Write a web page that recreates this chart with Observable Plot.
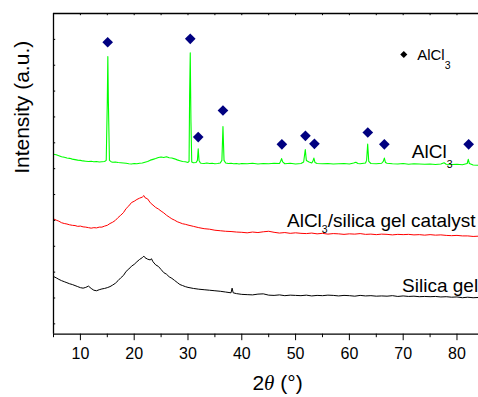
<!DOCTYPE html>
<html><head><meta charset="utf-8">
<script src="https://cdn.jsdelivr.net/npm/d3@7"></script>
<script src="https://cdn.jsdelivr.net/npm/@observablehq/plot@0.6"></script>
<style>
html,body{margin:0;padding:0;background:#fff;overflow:hidden;}
#chart svg{overflow:hidden;display:block;}
</style>
</head><body><div id="chart"></div>
<script>
// 2θ (degrees), intensity (a.u.)
const aluminumChloride = [[5,696],[5.5,694],[6,690],[6.5,686],[7,684],[7.5,681],[8,680],[8.5,677],[9,675],[9.5,673],[10,672],[10.5,670],[11,669],[11.5,668],[12,669],[12.5,667],[13,668],[13.5,666],[14,667],[14.5,668],[14.8,672],[15.0,900],[15.1,1074],[15.2,900],[15.4,672],[15.7,667],[16,665],[16.5,666],[17,664],[17.5,663],[18,662],[18.5,661],[19,659],[19.5,658],[20,660],[20.5,659],[21,661],[21.5,662],[22,665],[22.5,668],[23,673],[23.5,676],[24,679],[24.5,683],[25,685],[25.5,683],[26,686],[26.5,682],[27,681],[27.5,678],[28,674],[28.5,671],[29,668],[29.5,667],[30,664],[30.2,668],[30.3,920],[30.42,1088],[30.55,820],[30.7,666],[31,663],[31.5,664],[31.75,672],[31.9,717],[32.05,672],[32.3,662],[32.5,661],[33,660],[33.5,662],[34,660],[34.5,661],[35,659],[35.5,660],[36,662],[36.3,672],[36.5,803],[36.7,672],[37,662],[37.5,660],[38,661],[38.5,659],[39,660],[39.5,658],[40,660],[41,659],[42,661],[43,658],[44,660],[45,659],[46,661],[47,660],[47.2,668],[47.4,679],[47.6,666],[48,659],[49,661],[50,658],[51,660],[51.5,666],[51.8,714],[52,672],[52.5,666],[53,662],[53.2,668],[53.4,681],[53.6,664],[54,660],[55,659],[56,660],[57,658],[58,659],[59,660],[60,658],[60.8,662],[61.2,665],[61.6,660],[62,659],[63,662],[63.2,672],[63.4,735],[63.6,668],[64,660],[65,659],[66,661],[66.3,668],[66.5,681],[66.7,664],[67,661],[68,659],[69,658],[70,660],[71,657],[72,659],[73,658],[74,657],[75,658],[76,656],[77,658],[77.6,663],[78,657],[79,656],[80,657],[81,655],[81.9,660],[82.1,676],[82.3,660],[83,654],[84,653]];

const catalyst = [[5,446],[5.5,441],[6,437],[6.5,431],[7,428],[7.5,426],[8,423],[8.5,421],[9,420],[9.5,417],[10,418],[10.5,415],[11,414],[11.5,412],[12,410],[12.5,412],[13,411],[13.5,414],[14,414],[14.5,418],[15,421],[15.5,428],[16,433],[16.5,440],[17,451],[17.5,460],[18,470],[18.5,486],[19,496],[19.5,509],[20,514],[20.5,521],[21,526],[21.5,530],[21.8,536],[22,528],[22.5,523],[23,508],[23.5,499],[24,490],[24.5,484],[25,476],[25.5,469],[26,460],[26.5,453],[27,446],[27.5,441],[28,435],[28.5,431],[29,427],[29.5,425],[30,422],[31,417],[32,412],[33,408],[34,406],[35,402],[36,400],[37,398],[38,397],[39,395],[40,394],[41,392],[42,395],[43,393],[44,396],[45,398],[46,394],[47,391],[48,393],[49,390],[50,392],[51,390],[52,389],[53,391],[54,388],[55,390],[56,387],[57,389],[58,388],[59,386],[60,388],[61,387],[62,389],[63,386],[64,387],[65,385],[66,387],[67,386],[68,384],[69,386],[70,385],[71,386],[72,384],[73,385],[74,383],[75,385],[76,383],[77,384],[78,382],[79,381],[80,382],[81,380],[82,380],[83,378],[84,379]];

const silicaGel = [[5,223],[5.5,218],[6,212],[6.5,207],[7,203],[7.5,199],[8,195],[8.5,192],[9,188],[9.5,184],[10,180],[10.5,178],[11,181],[11.5,186],[12,177],[12.5,170],[13,168],[13.5,172],[14,175],[14.5,177],[15,180],[15.5,184],[16,190],[16.5,197],[17,207],[17.5,218],[18,227],[18.5,243],[19,252],[19.5,263],[20,270],[20.5,280],[21,289],[21.5,296],[21.8,302],[22,296],[22.5,290],[23,287],[23.2,292],[23.5,280],[24,268],[24.5,262],[25,250],[25.5,238],[26,232],[26.5,222],[27,216],[27.5,208],[28,200],[28.5,192],[29,188],[29.5,184],[30,181],[31,177],[32,174],[33,172],[34,170],[35,168],[36,166],[37,163],[38,160],[38.2,178],[38.4,160],[39,157],[40,154],[41,153],[42,152],[43,155],[44,156],[45,151],[46,150],[47,152],[48,149],[49,151],[50,150],[51,149],[52,151],[53,148],[54,150],[55,149],[56,151],[57,150],[58,148],[59,150],[60,149],[61,147],[62,150],[63,148],[64,149],[65,147],[66,148],[67,147],[68,149],[69,146],[70,148],[71,146],[72,147],[73,145],[74,146],[75,145],[76,146],[77,144],[78,145],[79,143],[80,144],[81,141],[82,143],[83,141],[84,142]];

// AlCl3 reflection markers (2θ, height)
const peakMarkers = [[15.07,1129],[30.42,1142],[31.9,762],[36.5,865],[47.45,734],[51.83,767],[53.5,736],[63.42,780],[66.5,734],[82.17,734]];

// series labels (2θ, intensity of label baseline)
const seriesLabels = [
  {text: "AlCl3", x: 71.6, y: 682},
  {text: "AlCl3/silica gel catalyst", x: 48.4, y: 414},
  {text: "Silica gel", x: 69.8, y: 165}
];

const xMajorTicks = [10, 20, 30, 40, 50, 60, 70, 80];
const xMinorTicks = [5, 15, 25, 35, 45, 55, 65, 75];
const xTopTicks = [10, 15, 20, 25, 30, 35, 40, 45, 50, 55, 60, 65, 70, 75, 80];
const yTicks = [40, 140, 240, 340, 440, 540, 640, 740, 840, 940, 1040, 1140];
const legendLabel = "AlCl3";
const xTitle = "2θ (°)";
const yTitle = "Intensity (a.u.)";

const W = 478, H = 397, mL = 53, mT = 13, mB = 63.3, mR = 0;
const frameW = W - mL - mR, frameH = H - mT - mB;

const plot = Plot.plot({
  width: W, height: H,
  marginLeft: mL, marginTop: mT, marginBottom: mB, marginRight: mR,
  style: {fontFamily: "'Liberation Sans', Arial, sans-serif", background: "#fff", overflow: "hidden"},
  x: {domain: [5, 84], axis: null},
  y: {domain: [0, 1240], axis: null},
  marks: [
    Plot.line(silicaGel, {x: d => d[0], y: d => d[1], stroke: "#000", strokeWidth: 1}),
    Plot.line(catalyst, {x: d => d[0], y: d => d[1], stroke: "#ff0000", strokeWidth: 1}),
    Plot.line(aluminumChloride, {x: d => d[0], y: d => d[1], stroke: "#00ff00", strokeWidth: 1.1}),
    Plot.dot(peakMarkers, {x: d => d[0], y: d => d[1], symbol: "diamond2", r: 4.8, fill: "#000080", stroke: "none"}),
    // frame lines
    Plot.ruleY([0], {stroke: "#000", strokeWidth: 1.3}),
    Plot.ruleY([1240], {stroke: "#000", strokeWidth: 1.3}),
    Plot.ruleX([5], {stroke: "#000", strokeWidth: 1.3}),
    // inward ticks top and left
    Plot.ruleX(xTopTicks, {x: d => d, insetBottom: frameH - 2.2, stroke: "#000", strokeWidth: 1}),
    Plot.ruleY(yTicks, {y: d => d, insetRight: frameW - 2.2, stroke: "#000", strokeWidth: 1}),
    // bottom axis
    Plot.axisX({ticks: xMajorTicks, tickSize: 6.5, tickPadding: 7, fontSize: 16, label: null, tickFormat: d => String(d), stroke: "#000", strokeWidth: 1, color: "#000"}),
    Plot.axisX({ticks: xMinorTicks, tickSize: 3.5, text: null, label: null, stroke: "#000", strokeWidth: 1}),
    // axis titles
    Plot.text([xTitle], {frameAnchor: "bottom", dx: 11.5, dy: 49.5, fontSize: 21, fill: "#000", lineAnchor: "middle"}),
    Plot.text([yTitle], {frameAnchor: "left", rotate: -90, dx: -31, fontSize: 21, fill: "#000"}),
    // series labels
    Plot.text(seriesLabels, {x: "x", y: "y", text: "text", textAnchor: "start", lineAnchor: "bottom", fontSize: 19, fill: "#000"}),
    // legend
    Plot.dot([legendLabel], {frameAnchor: "top-right", dx: -74.7, dy: 41, symbol: "diamond2", r: 3.2, fill: "#000", stroke: "none"}),
    Plot.text([legendLabel], {frameAnchor: "top-right", dx: -61.3, dy: 46.5, textAnchor: "start", lineAnchor: "bottom", fontSize: 15, fill: "#000"})
  ]
});

// rich text: subscripts and italic theta
d3.select(plot).selectAll("text").each(function () {
  const t = this.textContent;
  const sel = d3.select(this);
  if (t.startsWith("AlCl3")) {
    const fs = +(this.parentNode.getAttribute("font-size") || this.getAttribute("font-size") || 19);
    const rest = t.slice(5);
    let subSize, shift;
    if (fs < 17) { subSize = 10.5; shift = 8.5; }
    else if (rest) { subSize = 10.5; shift = 5.5; }
    else { subSize = 10.5; shift = 10; }
    sel.text(null);
    sel.append("tspan").text("AlCl");
    sel.append("tspan").attr("font-size", subSize).attr("dy", shift).text("3");
    if (rest) sel.append("tspan").attr("dy", -shift).text(rest);
  } else if (t === xTitle) {
    sel.text(null);
    sel.append("tspan").text("2");
    sel.append("tspan").attr("font-style", "italic").attr("font-family", "'Liberation Serif', serif").text("θ");
    sel.append("tspan").text(" (°)");
  }
});

document.getElementById("chart").appendChild(plot);
</script>
</body></html>
